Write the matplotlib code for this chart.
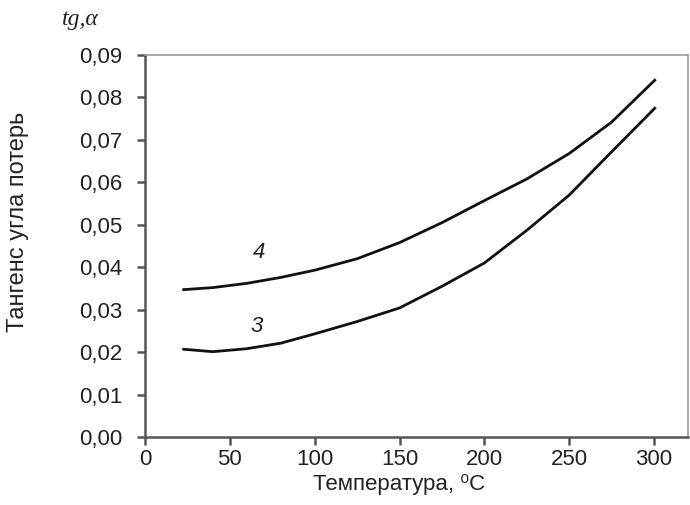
import matplotlib.pyplot as plt
from matplotlib.ticker import FuncFormatter

# Температура, °C
temp = [22, 40, 60, 80, 100, 125, 150, 175, 200, 225, 250, 275, 301]
# кривая 4 и кривая 3 (тангенс угла потерь)
curve_4 = [0.0347, 0.0352, 0.0362, 0.0376, 0.0393, 0.0420, 0.0458, 0.0505, 0.0557, 0.0608, 0.0668, 0.0742, 0.0843]
curve_3 = [0.0207, 0.0201, 0.0208, 0.0221, 0.0243, 0.0272, 0.0304, 0.0355, 0.0410, 0.0487, 0.0570, 0.0672, 0.0777]

x_ticks = [0, 50, 100, 150, 200, 250, 300]
y_ticks = [0.00, 0.01, 0.02, 0.03, 0.04, 0.05, 0.06, 0.07, 0.08, 0.09]

plt.rcParams['font.family'] = ['Liberation Sans', 'DejaVu Sans']

fig = plt.figure(figsize=(6.9, 5.05), dpi=100)
ax = fig.add_axes([0.2101, 0.1347, 0.787, 0.7563])

ax.plot(temp, curve_4, color="#111111", lw=2.0, solid_capstyle="butt")
ax.plot(temp, curve_3, color="#111111", lw=2.0, solid_capstyle="butt")

ax.text(67, 0.0435, "4", fontsize=16, style="italic", ha="center", va="center", color="#222222")
ax.text(66, 0.026, "3", fontsize=16, style="italic", ha="center", va="center", color="#222222")

ax.set_xlim(0, 320)
ax.set_ylim(0, 0.09)
ax.set_xticks(x_ticks)
ax.set_yticks(y_ticks)
ax.yaxis.set_major_formatter(FuncFormatter(lambda v, _: f"{v:.2f}".replace(".", ",")))

for side in ("left", "bottom"):
    ax.spines[side].set_color("#555555")
    ax.spines[side].set_linewidth(1.8)
for side in ("top", "right"):
    ax.spines[side].set_color("#999999")
    ax.spines[side].set_linewidth(1.2)

ax.tick_params(direction="out", length=6, width=1.8, color="#555555",
               labelsize=16, labelcolor="#222222")
ax.tick_params(axis="y", pad=10)
ax.tick_params(axis="x", pad=3)

ax.set_xlabel("Температура, ⁰C", fontsize=16, color="#222222")
ax.xaxis.set_label_coords(0.468, -0.098, transform=ax.transAxes)
ax.xaxis.label.set_va("top")
fig.text(18 / 690, 1 - 222 / 505, "Тангенс угла потерь", fontsize=17, color="#222222",
         rotation=90, ha="center", va="center")

fig.text(62 / 690, 1 - 20 / 505, "tg,α", fontsize=17, family=["Liberation Serif", "DejaVu Serif"],
         style="italic", ha="left", va="center", color="#222222")

fig.savefig("out.png", dpi=100)
